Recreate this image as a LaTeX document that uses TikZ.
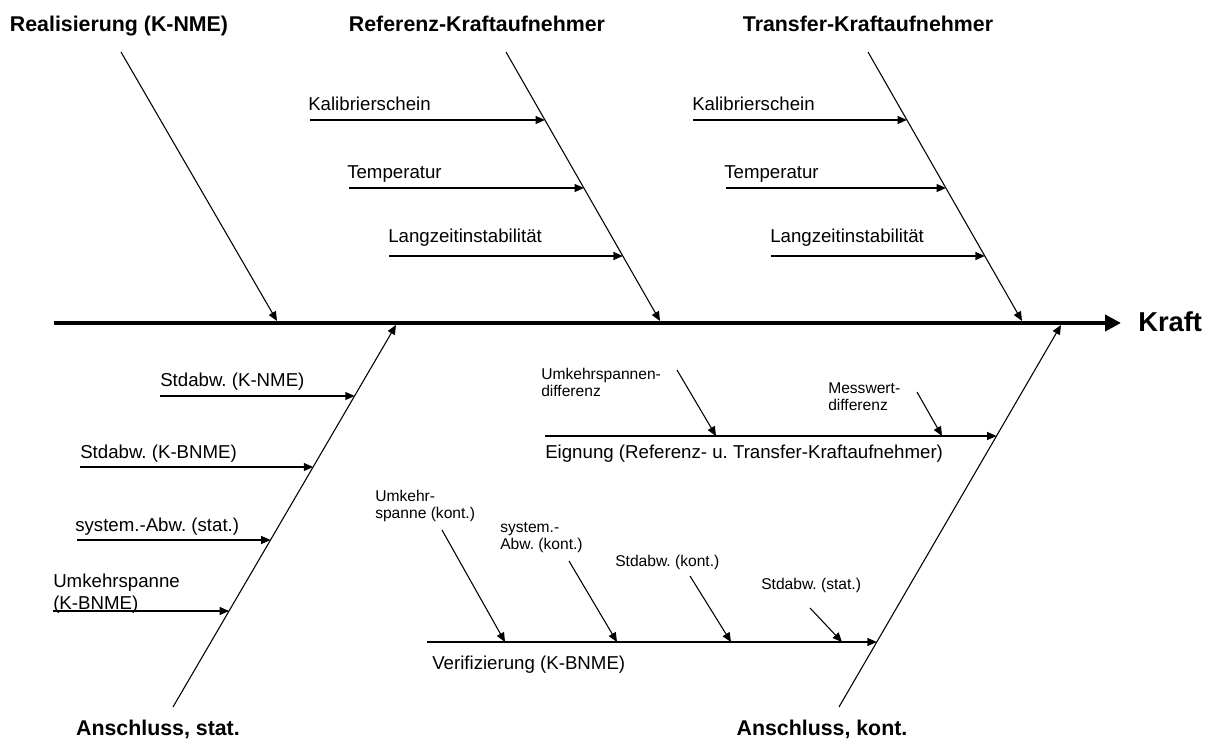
\documentclass[tikz,border=0pt]{standalone}
\usepackage{fontspec}
\setmainfont{Liberation Sans}
\usetikzlibrary{arrows.meta}
\frenchspacing
\begin{document}
\begin{tikzpicture}[x=0.75pt,y=-0.75pt,
  thinarrow/.style={line width=0.8pt,-{Triangle[length=7pt,width=6pt]}},
  spinearrow/.style={line width=3.6pt,-{Triangle[length=12pt,width=12pt]}},
  title/.style={font=\fontsize{16}{19}\selectfont\bfseries,inner sep=0pt,anchor=base},
  cause/.style={font=\fontsize{14}{16.5}\selectfont,inner sep=0pt,anchor=base west,align=left},
  subcause/.style={font=\fontsize{11.7}{12.75}\selectfont,inner sep=0pt,anchor=base west,align=left}]
\useasboundingbox (0,0) rectangle (1215,745);

% main categories
\node[title] (tReal)  at (119,32)  {Realisierung (K-NME)};
\node[title] (tRef)   at (477,32)  {Referenz-Kraftaufnehmer};
\node[title] (tTrans) at (868,32)  {Transfer-Kraftaufnehmer};
\node[title] (tStat)  at (158,735) {Anschluss, stat.};
\node[title] (tKont)  at (822,735) {Anschluss, kont.};
\node[font=\fontsize{20.5}{24}\selectfont\bfseries,inner sep=0pt,anchor=base west] (kraft) at (1138,332) {Kraft};

% spine
\coordinate (s0) at (54,323);
\coordinate (s1) at (1121,323);
\draw[spinearrow] (s0) -- (s1);

% main branches
\coordinate (realTop) at (121,52);   \coordinate (realEnd) at (277,321);
\coordinate (refTop)  at (506,52);   \coordinate (refEnd)  at (660,321);
\coordinate (trTop)   at (868,52);   \coordinate (trEnd)   at (1022,321);
\coordinate (stBot)   at (173,707);  \coordinate (stEnd)   at (396,325);
\coordinate (koBot)   at (839,707);  \coordinate (koEnd)   at (1061,325);
\draw[thinarrow] (realTop) -- (realEnd);
\draw[thinarrow] (refTop) -- (refEnd);
\draw[thinarrow] (trTop) -- (trEnd);
\draw[thinarrow] (stBot) -- (stEnd);
\draw[thinarrow] (koBot) -- (koEnd);

% Referenz-Kraftaufnehmer
\node[cause] (lRefK) at (308,111) {Kalibrierschein};
\node[cause] (lRefT) at (347,179) {Temperatur};
\node[cause] (lRefL) at (388,243) {Langzeitinstabilität};
\coordinate (rk0) at (310,120); \coordinate (rk1) at (544.9,120);
\coordinate (rt0) at (349,188); \coordinate (rt1) at (583.9,188);
\coordinate (rl0) at (389,256); \coordinate (rl1) at (622.8,256);
\draw[thinarrow] (rk0) -- (rk1);
\draw[thinarrow] (rt0) -- (rt1);
\draw[thinarrow] (rl0) -- (rl1);

% Transfer-Kraftaufnehmer
\node[cause] (lTrK) at (692,111) {Kalibrierschein};
\node[cause] (lTrT) at (724,179) {Temperatur};
\node[cause] (lTrL) at (770,243) {Langzeitinstabilität};
\coordinate (tk0) at (693,120); \coordinate (tk1) at (906.9,120);
\coordinate (tt0) at (726,188); \coordinate (tt1) at (945.9,188);
\coordinate (tl0) at (771,256); \coordinate (tl1) at (984.8,256);
\draw[thinarrow] (tk0) -- (tk1);
\draw[thinarrow] (tt0) -- (tt1);
\draw[thinarrow] (tl0) -- (tl1);

% Anschluss, stat.
\node[cause] (lSa) at (160,387) {Stdabw. (K-NME)};
\node[cause] (lSb) at (80,459)  {Stdabw. (K-BNME)};
\node[cause] (lSc) at (75,532)  {system.-Abw. (stat.)};
\node[cause] (lSd) at (53,609)  {Umkehrspanne\\(K-BNME)};
\coordinate (sa0) at (160,396); \coordinate (sa1) at (354.6,396);
\coordinate (sb0) at (80,467);  \coordinate (sb1) at (313.1,467);
\coordinate (sc0) at (77,540);  \coordinate (sc1) at (270.5,540);
\coordinate (sd0) at (53,611);  \coordinate (sd1) at (229,611);
\draw[thinarrow] (sa0) -- (sa1);
\draw[thinarrow] (sb0) -- (sb1);
\draw[thinarrow] (sc0) -- (sc1);
\draw[thinarrow] (sd0) -- (sd1);

% Anschluss, kont.: Eignung
\node[cause] (lEig) at (545,459) {Eignung (Referenz- u. Transfer-Kraftaufnehmer)};
\coordinate (e0) at (545,436); \coordinate (e1) at (996.5,436);
\draw[thinarrow] (e0) -- (e1);
\node[subcause] (lUd) at (541,397) {Umkehrspannen-\\differenz};
\node[subcause] (lMd) at (828,411) {Messwert-\\differenz};
\coordinate (ud0) at (677,370); \coordinate (ud1) at (716,436);
\coordinate (md0) at (917,392); \coordinate (md1) at (942,436);
\draw[thinarrow] (ud0) -- (ud1);
\draw[thinarrow] (md0) -- (md1);

% Anschluss, kont.: Verifizierung
\node[cause] (lVer) at (432,669) {Verifizierung (K-BNME)};
\coordinate (v0) at (427,642); \coordinate (v1) at (876.8,642);
\draw[thinarrow] (v0) -- (v1);
\node[subcause] (lVu) at (375,518) {Umkehr-\\spanne (kont.)};
\node[subcause] (lVs) at (500,549) {system.-\\Abw. (kont.)};
\node[subcause] (lVk) at (615,566) {Stdabw. (kont.)};
\node[subcause] (lVt) at (761,589) {Stdabw. (stat.)};
\coordinate (vu0) at (442,530); \coordinate (vu1) at (505,642);
\coordinate (vs0) at (569,561); \coordinate (vs1) at (617,642);
\coordinate (vk0) at (690,576); \coordinate (vk1) at (731,642);
\coordinate (vt0) at (810,608); \coordinate (vt1) at (842,642);
\draw[thinarrow] (vu0) -- (vu1);
\draw[thinarrow] (vs0) -- (vs1);
\draw[thinarrow] (vk0) -- (vk1);
\draw[thinarrow] (vt0) -- (vt1);
\end{tikzpicture}
\end{document}
